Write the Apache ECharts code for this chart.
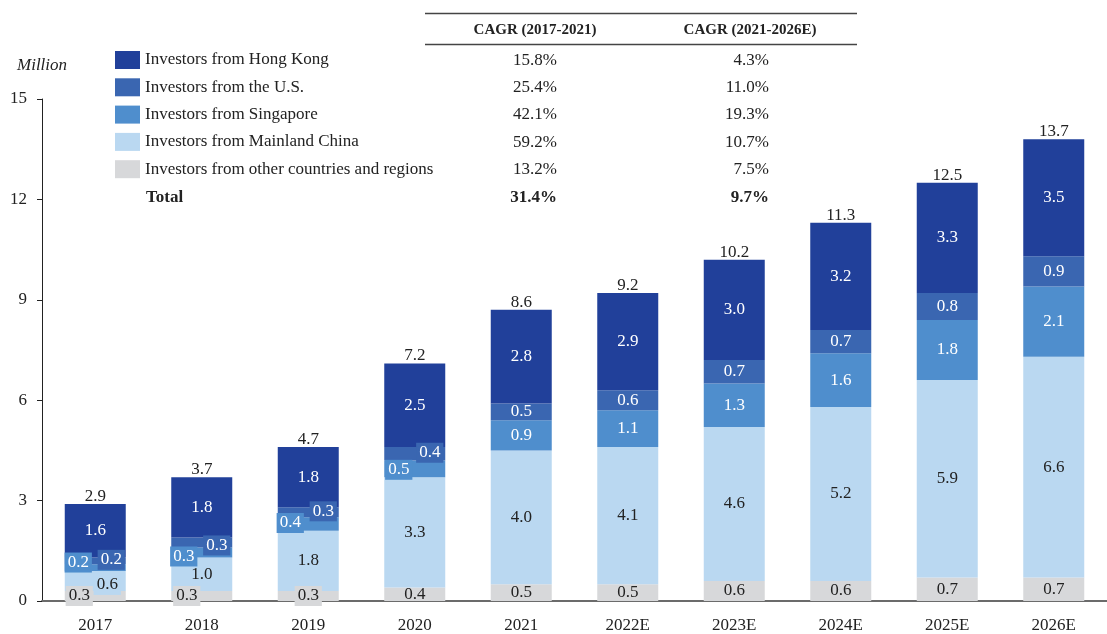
<!DOCTYPE html>
<html>
<head>
<meta charset="utf-8">
<script src="https://cdn.jsdelivr.net/npm/echarts@6/dist/echarts.min.js"></script>
<style>
html,body{margin:0;padding:0;background:#fff;}
#chart{width:1107px;height:634px;}
</style>
</head>
<body>
<div id="chart"></div>
<script>
// ---- data ----
const categories = ['2017','2018','2019','2020','2021','2022E','2023E','2024E','2025E','2026E'];
const otherRegions = [0.3,0.3,0.3,0.4,0.5,0.5,0.6,0.6,0.7,0.7];
const mainlandChina = [0.6,1.0,1.8,3.3,4.0,4.1,4.6,5.2,5.9,6.6];
const singapore = [0.2,0.3,0.4,0.5,0.9,1.1,1.3,1.6,1.8,2.1];
const unitedStates = [0.2,0.3,0.3,0.4,0.5,0.6,0.7,0.7,0.8,0.9];
const hongKong = [1.6,1.8,1.8,2.5,2.8,2.9,3.0,3.2,3.3,3.5];
const totals = ['2.9','3.7','4.7','7.2','8.6','9.2','10.2','11.3','12.5','13.7'];
const totalHelper = [0,0,0,0,0,0,0,0,0,0];
const legendNames = ['Investors from Hong Kong','Investors from the U.S.','Investors from Singapore','Investors from Mainland China','Investors from other countries and regions'];
const cagr1 = ['15.8%','25.4%','42.1%','59.2%','13.2%','31.4%'];
const cagr2 = ['4.3%','11.0%','19.3%','10.7%','7.5%','9.7%'];
const cagrHeaders = ['CAGR (2017-2021)','CAGR (2021-2026E)'];
const yTicks = {min:0,max:15,interval:3};

// ---- styles ----
const FONT = '"Liberation Serif", "DejaVu Serif", serif';
const FS = 17;
const COLORS = {hk:'#21409A', us:'#3A66B1', sg:'#4F8ECD', cn:'#BAD8F1', ot:'#D7D8DA'};
const TXT = '#222222';
const labelTweaks = {
  ot: {0:{offset:[-16,0],bg:true},1:{offset:[-15,0],bg:true},2:{offset:[0,0],bg:true}},
  cn: {0:{offset:[12,4],bg:true}},
  sg: {0:{offset:[-17,-5],bg:true},1:{offset:[-18,4],bg:true},2:{offset:[-18,-1],bg:true},3:{offset:[-16,1],bg:true}},
  us: {0:{offset:[16,-1],bg:true},1:{offset:[15,3],bg:true},2:{offset:[15,-1],bg:true},3:{offset:[15,-1],bg:true}}
};

function buildData(values, key){
  const tw = labelTweaks[key] || {};
  return values.map((v,i)=>{
    const t = tw[i];
    if(!t) return v;
    const lab = {offset:t.offset};
    if(t.bg){ lab.backgroundColor = COLORS[key]; lab.padding = [2,3,1,3]; }
    return {value:v, label:lab};
  });
}
function mkSeries(name, values, key, textColor){
  return {
    name:name, type:'bar', stack:'total', barWidth:61,
    itemStyle:{color:COLORS[key]},
    label:{show:true, position:'inside', color:textColor, fontFamily:FONT, fontSize:FS,
      formatter:(p)=> (typeof p.value==='number'? p.value : p.data.value).toFixed(1)},
    emphasis:{disabled:true},
    data: buildData(values, key)
  };
}

const series = [
  mkSeries(legendNames[4], otherRegions, 'ot', TXT),
  mkSeries(legendNames[3], mainlandChina, 'cn', TXT),
  mkSeries(legendNames[2], singapore, 'sg', '#ffffff'),
  mkSeries(legendNames[1], unitedStates, 'us', '#ffffff'),
  mkSeries(legendNames[0], hongKong, 'hk', '#ffffff'),
  {
    name:'Total', type:'bar', stack:'total', barWidth:61,
    itemStyle:{color:'transparent'},
    label:{show:true, position:'top', distance:-1, color:TXT, fontFamily:FONT, fontSize:FS,
      formatter:(p)=>totals[p.dataIndex]},
    emphasis:{disabled:true},
    data: totalHelper
  }
];

// table / legend extras (graphic)
const rowY = [61,88,115,143,170,198];
const graphics = [
  {type:'text', x:17, y:66, style:{text:'Million', font:'italic 17px '+FONT, fill:TXT, textVerticalAlign:'middle'}},
  {type:'line', shape:{x1:425,y1:13.5,x2:857,y2:13.5}, style:{stroke:'#444',lineWidth:1.3}},
  {type:'line', shape:{x1:425,y1:44.5,x2:857,y2:44.5}, style:{stroke:'#444',lineWidth:1.3}},
  {type:'text', x:535, y:30, style:{text:cagrHeaders[0], font:'bold 15px '+FONT, fill:TXT, textAlign:'center', textVerticalAlign:'middle'}},
  {type:'text', x:750, y:30, style:{text:cagrHeaders[1], font:'bold 15px '+FONT, fill:TXT, textAlign:'center', textVerticalAlign:'middle'}},
  {type:'text', x:146, y:rowY[5], style:{text:'Total', font:'bold 17px '+FONT, fill:TXT, textVerticalAlign:'middle'}}
];
cagr1.forEach((t,i)=>{
  const bold = i===5 ? 'bold ' : '';
  graphics.push({type:'text', x:557, y:rowY[i], style:{text:t, font:bold+'17px '+FONT, fill:TXT, textAlign:'right', textVerticalAlign:'middle'}});
  graphics.push({type:'text', x:769, y:rowY[i], style:{text:cagr2[i], font:bold+'17px '+FONT, fill:TXT, textAlign:'right', textVerticalAlign:'middle'}});
});

const chart = echarts.init(document.getElementById('chart'), null, {renderer:'canvas'});
chart.setOption({
  animation:false,
  backgroundColor:'#ffffff',
  grid:{left:42, top:99, bottom:31, width:1079, containLabel:false},
  legend:{
    orient:'vertical', left:115, top:51, padding:0,
    itemWidth:25, itemHeight:18, itemGap:9.3,
    icon:'rect', selectedMode:false,
    data:legendNames,
    textStyle:{fontFamily:FONT, fontSize:FS, color:TXT}
  },
  xAxis:{
    type:'category', data:categories,
    axisLine:{lineStyle:{color:'#6b6b6b', width:2}},
    axisTick:{show:false},
    axisLabel:{color:TXT, fontFamily:FONT, fontSize:FS, margin:16}
  },
  yAxis:{
    type:'value', min:yTicks.min, max:yTicks.max, interval:yTicks.interval,
    axisLine:{show:true, lineStyle:{color:'#222', width:1}},
    axisTick:{show:true, length:5, lineStyle:{color:'#222'}},
    splitLine:{show:false},
    axisLabel:{color:TXT, fontFamily:FONT, fontSize:FS, margin:15}
  },
  series:series,
  graphic:graphics
});
</script>
</body>
</html>
